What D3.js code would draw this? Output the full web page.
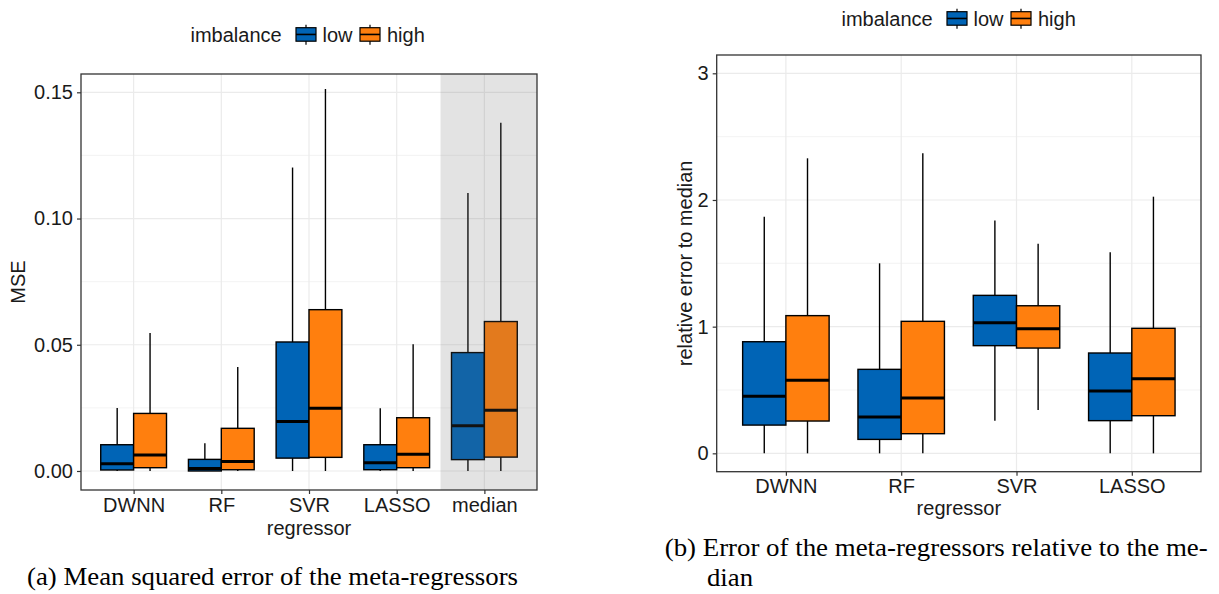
<!DOCTYPE html>
<html>
<head>
<meta charset="utf-8">
<script src="https://cdn.jsdelivr.net/npm/d3@7"></script>
<style>
  body { margin: 0; background: #fff; }
  svg { display: block; }
  text { font-family: "Liberation Sans", Arial, sans-serif; fill: #1a1a1a; }
  .caption { font-family: "Liberation Serif", "Times New Roman", serif; fill: #000; }
</style>
</head>
<body>
<div id="chart"></div>
<script>
// categories and groups
const regressorsA = ['DWNN', 'RF', 'SVR', 'LASSO', 'median'];
const regressorsB = ['DWNN', 'RF', 'SVR', 'LASSO'];
const groups = ['low', 'high'];

// box stats per regressor: [lower whisker, q1, median, q3, upper whisker]
const mseLow = [
  [0, 0.0004, 0.0029, 0.0104, 0.0250],
  [0, 0.0000, 0.0010, 0.0046, 0.0110],
  [0, 0.0051, 0.0196, 0.0511, 0.1202],
  [0, 0.0005, 0.0033, 0.0104, 0.0249],
  [0, 0.0045, 0.0179, 0.0469, 0.1101]
];
const mseHigh = [
  [0, 0.0013, 0.0063, 0.0228, 0.0547],
  [0, 0.0005, 0.0038, 0.0169, 0.0412],
  [0, 0.0054, 0.0249, 0.0639, 0.1513],
  [0, 0.0013, 0.0066, 0.0211, 0.0502],
  [0, 0.0055, 0.0241, 0.0592, 0.1379]
];
const relLow = [
  [0, 0.223, 0.450, 0.881, 1.868],
  [0, 0.110, 0.287, 0.663, 1.500],
  [0.258, 0.850, 1.031, 1.247, 1.839],
  [0, 0.258, 0.492, 0.792, 1.587]
];
const relHigh = [
  [0, 0.255, 0.576, 1.087, 2.329],
  [0, 0.155, 0.437, 1.042, 2.368],
  [0.342, 0.831, 0.984, 1.165, 1.655],
  [0, 0.297, 0.589, 0.987, 2.026]
];

// tick labels
const mseTicks = [0, 0.05, 0.10, 0.15];
const mseMinor = [0.025, 0.075, 0.125];
const relTicks = [0, 1, 2, 3];
const relMinor = [0.5, 1.5, 2.5];

const fills = { low: '#0064b6', high: '#ff7f0e' };

const width = 1219, height = 594;
const svg = d3.select('#chart').append('svg')
  .attr('width', width)
  .attr('height', height);

function drawPanel(cfg) {
  const g = svg.append('g');
  const x = d3.scalePoint().domain(cfg.cats).range([cfg.left, cfg.right]).padding(0.6);
  const y = d3.scaleLinear().domain(cfg.domain).range([cfg.bottom, cfg.top]);
  const step = x.step();
  const bw = step * 0.375;

  // grid
  g.selectAll('.minor').data(cfg.minor).enter().append('line')
    .attr('x1', cfg.left).attr('x2', cfg.right)
    .attr('y1', d => y(d)).attr('y2', d => y(d))
    .attr('stroke', '#f0f0f0').attr('stroke-width', 0.8);
  g.selectAll('.major').data(cfg.ticks).enter().append('line')
    .attr('x1', cfg.left).attr('x2', cfg.right)
    .attr('y1', d => y(d)).attr('y2', d => y(d))
    .attr('stroke', '#ebebeb').attr('stroke-width', 1.2);
  g.selectAll('.vgrid').data(cfg.cats).enter().append('line')
    .attr('x1', d => x(d)).attr('x2', d => x(d))
    .attr('y1', cfg.top).attr('y2', cfg.bottom)
    .attr('stroke', '#ebebeb').attr('stroke-width', 1.2);

  // boxes
  const boxes = [];
  cfg.cats.forEach((c, i) => {
    boxes.push({ cat: c, grp: 'low', s: cfg.low[i], cx: x(c) - bw / 2 });
    boxes.push({ cat: c, grp: 'high', s: cfg.high[i], cx: x(c) + bw / 2 });
  });
  const b = g.selectAll('.box').data(boxes).enter().append('g');
  b.append('line')
    .attr('x1', d => d.cx).attr('x2', d => d.cx)
    .attr('y1', d => y(d.s[3])).attr('y2', d => y(d.s[4]))
    .attr('stroke', '#000').attr('stroke-width', 1.4);
  b.append('line')
    .attr('x1', d => d.cx).attr('x2', d => d.cx)
    .attr('y1', d => y(d.s[1])).attr('y2', d => y(d.s[0]))
    .attr('stroke', '#000').attr('stroke-width', 1.4);
  b.append('rect')
    .attr('x', d => d.cx - bw / 2).attr('width', bw)
    .attr('y', d => y(d.s[3])).attr('height', d => y(d.s[1]) - y(d.s[3]))
    .attr('fill', d => fills[d.grp])
    .attr('stroke', '#000').attr('stroke-width', 1.4);
  b.append('line')
    .attr('x1', d => d.cx - bw / 2).attr('x2', d => d.cx + bw / 2)
    .attr('y1', d => y(d.s[2])).attr('y2', d => y(d.s[2]))
    .attr('stroke', '#000').attr('stroke-width', 3);

  // shaded reference column
  if (cfg.shade) {
    g.append('rect')
      .attr('x', x(cfg.shade) - step / 2).attr('width', cfg.right - (x(cfg.shade) - step / 2))
      .attr('y', cfg.top).attr('height', cfg.bottom - cfg.top)
      .attr('fill', '#636363').attr('fill-opacity', 0.18);
  }

  // border
  g.append('rect')
    .attr('x', cfg.left).attr('y', cfg.top)
    .attr('width', cfg.right - cfg.left).attr('height', cfg.bottom - cfg.top)
    .attr('fill', 'none').attr('stroke', '#333').attr('stroke-width', 1.3);

  // axes
  const ya = g.append('g').attr('transform', `translate(${cfg.left},0)`)
    .call(d3.axisLeft(y).tickValues(cfg.ticks).tickFormat(cfg.fmt).tickSize(4).tickPadding(4));
  const xa = g.append('g').attr('transform', `translate(0,${cfg.bottom})`)
    .call(d3.axisBottom(x).tickSize(4).tickPadding(3.5));
  [ya, xa].forEach(a => {
    a.select('.domain').remove();
    a.selectAll('line').attr('stroke', '#333').attr('stroke-width', 1.2);
    a.selectAll('text').attr('font-size', 20).attr('fill', '#1a1a1a')
      .attr('font-family', '"Liberation Sans", Arial, sans-serif');
  });

  // axis titles
  g.append('text')
    .attr('transform', `translate(${cfg.yTitleX},${(cfg.top + cfg.bottom) / 2}) rotate(-90)`)
    .attr('text-anchor', 'middle').attr('font-size', 20).text(cfg.yTitle);
  g.append('text')
    .attr('x', (cfg.left + cfg.right) / 2).attr('y', cfg.xTitleY)
    .attr('text-anchor', 'middle').attr('font-size', 20).text('regressor');

  // legend
  const lg = g.append('g');
  lg.append('text').attr('x', cfg.legX).attr('y', cfg.legY).attr('font-size', 20).text('imbalance');
  groups.forEach((grp, i) => {
    const kx = cfg.legX + 105.5 + i * 64;
    const ky = cfg.legY - 14;
    lg.append('line').attr('x1', kx + 10).attr('x2', kx + 10)
      .attr('y1', ky - 3).attr('y2', ky + 17)
      .attr('stroke', '#000').attr('stroke-width', 1.2);
    lg.append('rect').attr('x', kx).attr('y', ky).attr('width', 20).attr('height', 13.5)
      .attr('fill', fills[grp]).attr('stroke', '#000').attr('stroke-width', 1.2);
    lg.append('line').attr('x1', kx).attr('x2', kx + 20)
      .attr('y1', ky + 6.75).attr('y2', ky + 6.75)
      .attr('stroke', '#000').attr('stroke-width', 1.6);
    lg.append('text').attr('x', kx + 26.5 + (i ? 0.5 : 0)).attr('y', cfg.legY)
      .attr('font-size', 20).text(grp);
  });
}

drawPanel({
  cats: regressorsA, low: mseLow, high: mseHigh,
  left: 81, right: 537, top: 74, bottom: 490,
  domain: [-0.00753, 0.15725],
  ticks: mseTicks, minor: mseMinor, fmt: d3.format('.2f'),
  shade: 'median',
  yTitle: 'MSE', yTitleX: 25, xTitleY: 535,
  legX: 190.5, legY: 41.7
});

drawPanel({
  cats: regressorsB, low: relLow, high: relHigh,
  left: 716.7, right: 1201, top: 55, bottom: 471.7,
  domain: [-0.145, 3.1445],
  ticks: relTicks, minor: relMinor, fmt: d3.format('d'),
  shade: null,
  yTitle: 'relative error to median', yTitleX: 692, xTitleY: 515,
  legX: 841.5, legY: 25.7
});

// captions (stretched to the reference widths)
svg.append('text').attr('class', 'caption')
  .attr('x', 27).attr('y', 585).attr('font-size', 24.5)
  .attr('textLength', 491).attr('lengthAdjust', 'spacingAndGlyphs')
  .text('(a) Mean squared error of the meta-regressors');
svg.append('text').attr('class', 'caption')
  .attr('x', 664.7).attr('y', 556).attr('font-size', 24.5)
  .attr('textLength', 543).attr('lengthAdjust', 'spacingAndGlyphs')
  .text('(b) Error of the meta-regressors relative to the me-');
svg.append('text').attr('class', 'caption')
  .attr('x', 707).attr('y', 586).attr('font-size', 24.5)
  .attr('textLength', 46).attr('lengthAdjust', 'spacingAndGlyphs')
  .text('dian');
</script>
</body>
</html>
